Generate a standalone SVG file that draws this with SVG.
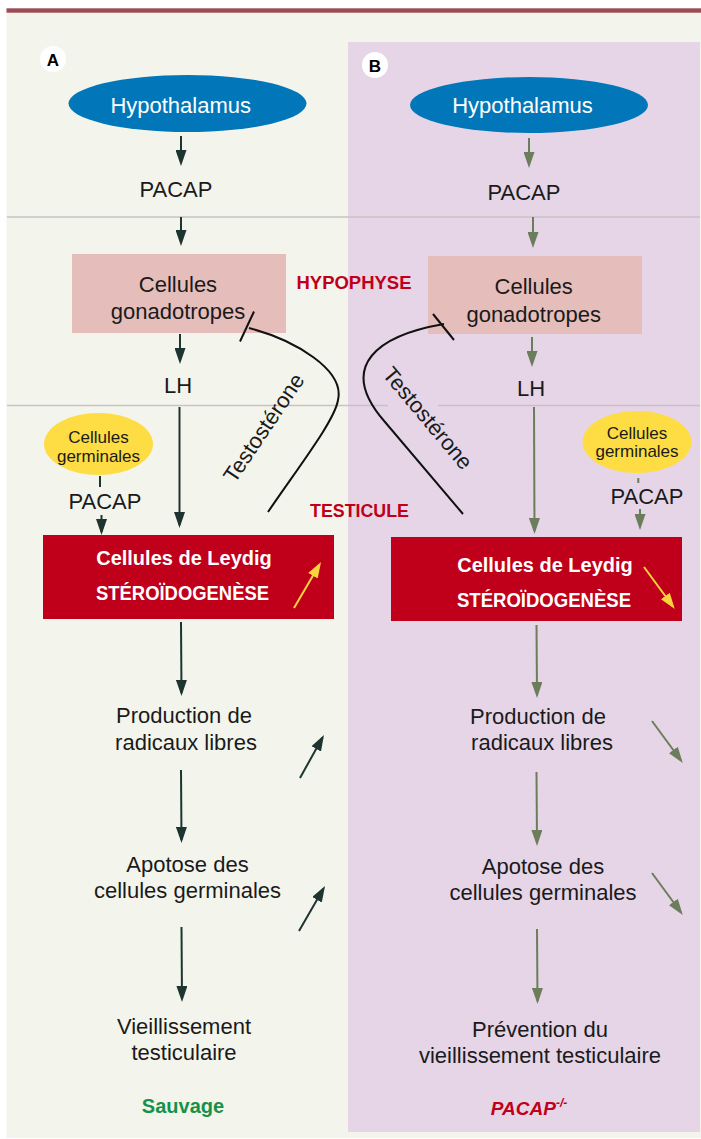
<svg xmlns="http://www.w3.org/2000/svg" width="701" height="1139" viewBox="0 0 701 1139">
<style>
.t{font-family:"Liberation Sans",Arial,sans-serif;font-size:22px;fill:#1a1a1a;text-anchor:middle}
.s{font-size:17px}
.w{font-family:"Liberation Sans",Arial,sans-serif;font-size:22px;fill:#fff;text-anchor:middle}
.wb{font-family:"Liberation Sans",Arial,sans-serif;font-weight:bold;font-size:20px;fill:#fff;text-anchor:middle}
.rb{font-family:"Liberation Sans",Arial,sans-serif;font-weight:bold;font-size:19px;fill:#c0001a;text-anchor:middle}
.d{stroke:#1e3430;stroke-width:2;fill:none}
.g{stroke:#6b7d5b;stroke-width:2;fill:none}
.y{stroke:#f8d43c;stroke-width:2;fill:none}
.k{stroke:#111;stroke-width:2;fill:none}
.sep{stroke:#c9c1c5;stroke-width:1.5}
</style>
<defs>
<marker id="ad" viewBox="0 0 16 11" refX="13" refY="5.5" markerWidth="16" markerHeight="11" markerUnits="userSpaceOnUse" orient="auto"><path d="M0,0 L16,5.5 L0,11 z" fill="#1e3430"/></marker>
<marker id="ag" viewBox="0 0 16 11" refX="13" refY="5.5" markerWidth="16" markerHeight="11" markerUnits="userSpaceOnUse" orient="auto"><path d="M0,0 L16,5.5 L0,11 z" fill="#6b7d5b"/></marker>
<marker id="ay" viewBox="0 0 16 11" refX="13" refY="5.5" markerWidth="16" markerHeight="11" markerUnits="userSpaceOnUse" orient="auto"><path d="M0,0 L16,5.5 L0,11 z" fill="#f8d43c"/></marker>
</defs>
<rect x="0" y="0" width="701" height="1139" fill="#fff"/>
<rect x="6.5" y="12" width="694.5" height="1126" fill="#f3f5ec"/>
<rect x="6.5" y="8.3" width="694.5" height="4.4" fill="#9d4a56"/>
<rect x="348" y="42" width="352" height="1090" fill="#e5d5e7"/>
<g id="separators">
<line class="sep" x1="7" y1="217" x2="700" y2="217"/>
<line class="sep" x1="7" y1="405.5" x2="388" y2="405.5"/>
<line class="sep" x1="438" y1="405.5" x2="700" y2="405.5"/>
</g>
<g id="labelA"><circle cx="53" cy="59" r="13" fill="#fff"/><text x="53" y="65.5" style="font-family:'Liberation Sans',Arial,sans-serif;font-weight:bold;font-size:17px;text-anchor:middle" fill="#000">A</text></g>
<g id="labelB"><circle cx="375" cy="65" r="13" fill="#fff"/><text x="375" y="71.5" style="font-family:'Liberation Sans',Arial,sans-serif;font-weight:bold;font-size:17px;text-anchor:middle" fill="#000">B</text></g>
<g id="hypophyse"><text class="rb" x="354" y="288.5" textLength="115" lengthAdjust="spacingAndGlyphs">HYPOPHYSE</text></g>
<g id="testicule"><text class="rb" x="359.5" y="517" textLength="99" lengthAdjust="spacingAndGlyphs">TESTICULE</text></g>

<g id="testoA"><text class="t" x="270" y="432" transform="rotate(-56 270 432)">Testostérone</text></g>
<g id="testoB"><text class="t" x="422" y="423" transform="rotate(50 422 423)">Testostérone</text></g>

<g id="hypoA"><ellipse cx="187.5" cy="103.5" rx="119" ry="28.5" fill="#0177b9"/><text class="w" x="180.7" y="112.7">Hypothalamus</text></g>
<g id="pacapA"><text class="t" x="176" y="197">PACAP</text></g>
<g id="gonaA"><rect x="72" y="254" width="214" height="79" fill="#e5bebb"/><text class="t" x="178" y="291.5">Cellules</text><text class="t" x="178" y="319">gonadotropes</text></g>
<g id="lhA"><text class="t" x="178" y="392.5">LH</text></g>
<g id="germA"><ellipse cx="98.5" cy="444" rx="54.5" ry="31" fill="#fedd44"/><text class="t s" x="98.5" y="443">Cellules</text><text class="t s" x="98.5" y="461.5">germinales</text></g>
<g id="pacapA2"><text class="t" x="105" y="509">PACAP</text></g>
<g id="leydigA"><rect x="43" y="535" width="291" height="84" fill="#c0001a"/><text class="wb" x="184" y="565">Cellules de Leydig</text><text class="wb" x="182.5" y="600" textLength="173" lengthAdjust="spacingAndGlyphs">STÉROÏDOGENÈSE</text></g>
<g id="radA"><text class="t" x="184" y="723">Production de</text><text class="t" x="186" y="749.5">radicaux libres</text></g>
<g id="apoA"><text class="t" x="187.5" y="871.5">Apotose des</text><text class="t" x="187.5" y="898">cellules germinales</text></g>
<g id="vieA"><text class="t" x="184" y="1034">Vieillissement</text><text class="t" x="184" y="1060">testiculaire</text></g>
<g id="sauvage"><text x="183" y="1113" style="font-family:'Liberation Sans',Arial,sans-serif;font-weight:bold;font-size:20px;text-anchor:middle" fill="#14924b">Sauvage</text></g>

<g id="hypoB"><ellipse cx="529" cy="105" rx="119" ry="28" fill="#0177b9"/><text class="w" x="522.5" y="113">Hypothalamus</text></g>
<g id="pacapB"><text class="t" x="524" y="200">PACAP</text></g>
<g id="gonaB"><rect x="428" y="256" width="214" height="78" fill="#e5bebb"/><text class="t" x="533.7" y="294">Cellules</text><text class="t" x="533.7" y="321.5">gonadotropes</text></g>
<g id="lhB"><text class="t" x="531" y="395.5">LH</text></g>
<g id="germB"><ellipse cx="637" cy="442" rx="54.5" ry="31" fill="#fedd44"/><text class="t s" x="637" y="438.5">Cellules</text><text class="t s" x="637" y="456.5">germinales</text></g>
<g id="pacapB2"><text class="t" x="647" y="504">PACAP</text></g>
<g id="leydigB"><rect x="391" y="537" width="291" height="84" fill="#c0001a"/><text class="wb" x="545" y="571.5">Cellules de Leydig</text><text class="wb" x="544" y="606.5" textLength="174" lengthAdjust="spacingAndGlyphs">STÉROÏDOGENÈSE</text></g>
<g id="radB"><text class="t" x="538" y="724">Production de</text><text class="t" x="542" y="750">radicaux libres</text></g>
<g id="apoB"><text class="t" x="543" y="874">Apotose des</text><text class="t" x="543" y="900">cellules germinales</text></g>
<g id="prevB"><text class="t" x="540" y="1036.5">Prévention du</text><text class="t" x="540" y="1063">vieillissement testiculaire</text></g>
<g id="pacapKO"><text x="529" y="1114.5" style="font-family:'Liberation Sans',Arial,sans-serif;font-weight:bold;font-style:italic;font-size:19px;text-anchor:middle" fill="#c0001a">PACAP<tspan dy="-8" font-size="12">-/-</tspan></text></g>

<g id="connectors">
<line class="d" x1="181" y1="136" x2="181" y2="163" marker-end="url(#ad)"/>
<line class="d" x1="181" y1="217" x2="181" y2="243" marker-end="url(#ad)"/>
<line class="d" x1="180" y1="334" x2="180" y2="361" marker-end="url(#ad)"/>
<line class="d" x1="179.5" y1="407" x2="179.5" y2="525" marker-end="url(#ad)"/>
<line class="d" x1="100" y1="476" x2="100" y2="487"/>
<line class="d" x1="101.5" y1="515" x2="101.5" y2="532" marker-end="url(#ad)"/>
<line class="d" x1="181" y1="622" x2="181.5" y2="693" marker-end="url(#ad)"/>
<line class="d" x1="181" y1="770" x2="181.5" y2="840" marker-end="url(#ad)"/>
<line class="d" x1="181.5" y1="927" x2="182" y2="999" marker-end="url(#ad)"/>
<line class="d" x1="300" y1="778" x2="322.5" y2="737.5" marker-end="url(#ad)"/>
<line class="d" x1="299" y1="931" x2="323.5" y2="888.5" marker-end="url(#ad)"/>
<line class="y" x1="294" y1="608" x2="319.5" y2="564.5" marker-end="url(#ay)"/>
<path class="k" d="M249,328 C295,340 345,370 338,400 C335,420 300,465 268,512"/>
<line class="k" x1="240" y1="341.5" x2="254" y2="311.5"/>

<line class="g" x1="529" y1="138" x2="529" y2="165" marker-end="url(#ag)"/>
<line class="g" x1="533" y1="217" x2="533" y2="245" marker-end="url(#ag)"/>
<line class="g" x1="532" y1="337" x2="532" y2="364" marker-end="url(#ag)"/>
<line class="g" x1="534" y1="407" x2="534.5" y2="531" marker-end="url(#ag)"/>
<line class="g" x1="638.3" y1="478" x2="638.3" y2="483"/>
<line class="g" x1="640" y1="509" x2="640" y2="527" marker-end="url(#ag)"/>
<line class="g" x1="536.5" y1="625" x2="537" y2="695" marker-end="url(#ag)"/>
<line class="g" x1="536.5" y1="772" x2="537" y2="843" marker-end="url(#ag)"/>
<line class="g" x1="537" y1="929" x2="537.5" y2="1001" marker-end="url(#ag)"/>
<line class="g" x1="652" y1="721" x2="681" y2="760.5" marker-end="url(#ag)"/>
<line class="g" x1="652" y1="873" x2="681" y2="912.5" marker-end="url(#ag)"/>
<line class="y" x1="644" y1="567" x2="673" y2="606.5" marker-end="url(#ay)"/>
<path class="k" d="M444,324 C380,335 335,365 385,422 L463,514"/>
<line class="k" x1="433" y1="314" x2="454" y2="340"/>
</g>
</svg>
